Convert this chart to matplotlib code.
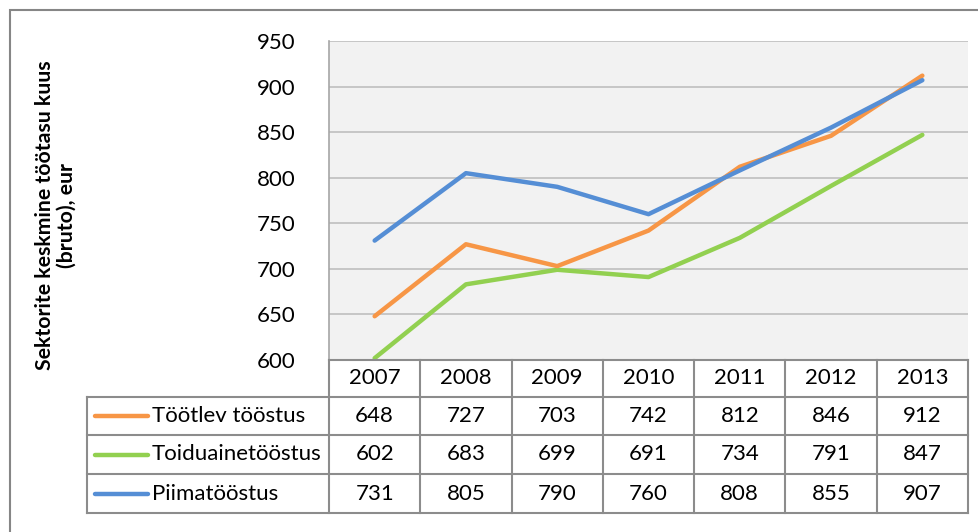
import matplotlib
matplotlib.use("Agg")
import matplotlib.pyplot as plt
from matplotlib.transforms import blended_transform_factory
from matplotlib.lines import Line2D
from matplotlib.patches import Rectangle

plt.rcParams['font.family'] = ['Lato', 'DejaVu Sans']

years = ['2007', '2008', '2009', '2010', '2011', '2012', '2013']
series_names = ['Töötlev tööstus', 'Toiduainetööstus', 'Piimatööstus']
tootlev = [648, 727, 703, 742, 812, 846, 912]
toiduaine = [602, 683, 699, 691, 734, 791, 847]
piima = [731, 805, 790, 760, 808, 855, 907]
series_values = [tootlev, toiduaine, piima]
colors = ['#F79646', '#92D050', '#558ED5']
y_ticks = [600, 650, 700, 750, 800, 850, 900, 950]
y_label = 'Sektorite keskmine töötasu kuus\n(bruto), eur'

W, H = 979, 532
fig = plt.figure(figsize=(W / 100, H / 100), dpi=100)
fig.patch.set_facecolor('white')

def fx(px):
    return px / W

def fy(py):
    return 1 - py / H

FS = 16

ax = fig.add_axes([fx(329), fy(360), fx(968) - fx(329), fy(41) - fy(360)])
ax.set_facecolor('#F2F2F2')
x = list(range(len(years)))
ax.set_xlim(-0.5, len(years) - 0.5)
ax.set_ylim(600, 950)
ax.set_yticks(y_ticks)
ax.set_yticklabels([str(v) for v in y_ticks], fontsize=FS)
ax.tick_params(axis='y', length=0, pad=24)
ax.set_xticks([])
ax.grid(axis='y', color='#C3C3C3', linewidth=1.3)
ax.set_axisbelow(True)
for s in ['top', 'right', 'bottom']:
    ax.spines[s].set_visible(False)
ax.spines['left'].set_color('#A6A6A6')
ax.spines['left'].set_linewidth(1.2)

for i in [1, 0, 2]:
    ax.plot(x, series_values[i], color=colors[i], linewidth=3.2,
            solid_capstyle='round', solid_joinstyle='round', zorder=3)

# data table
tr = blended_transform_factory(ax.transData, fig.transFigure)
px_per_col = (968 - 329) / len(years)
label_left = -0.5 - (329 - 87) / px_per_col
row_edges = [360, 397, 435, 474, 513]
border_c = '#8C8C8C'
lw = 1.5

for k, ry in enumerate(row_edges):
    left = -0.5 if k == 0 else label_left
    fig.add_artist(Line2D([left, len(years) - 0.5], [fy(ry), fy(ry)],
                          transform=tr, color=border_c, linewidth=lw))
for j in range(len(years) + 1):
    xe = j - 0.5
    fig.add_artist(Line2D([xe, xe], [fy(row_edges[0]), fy(row_edges[-1])],
                          transform=tr, color=border_c, linewidth=lw))
fig.add_artist(Line2D([label_left, label_left], [fy(row_edges[1]), fy(row_edges[-1])],
                      transform=tr, color=border_c, linewidth=lw))

for j, yr in enumerate(years):
    fig.text(j, fy((row_edges[0] + row_edges[1]) / 2), yr, transform=tr,
             ha='center', va='center', fontsize=FS)

leg_x0 = -0.5 - (329 - 95) / px_per_col
leg_x1 = -0.5 - (329 - 148) / px_per_col
txt_x = -0.5 - (329 - 152) / px_per_col
for i, name in enumerate(series_names):
    yc = fy((row_edges[i + 1] + row_edges[i + 2]) / 2)
    fig.add_artist(Line2D([leg_x0, leg_x1], [yc, yc], transform=tr,
                          color=colors[i], linewidth=3.2, solid_capstyle='round'))
    fig.text(txt_x, yc, name, transform=tr, ha='left', va='center', fontsize=FS)
    for j, v in enumerate(series_values[i]):
        fig.text(j, yc, str(v), transform=tr, ha='center', va='center', fontsize=FS)

fig.text(fx(56), fy(215), y_label, rotation=90, ha='center', va='center',
         fontsize=15.3, fontweight='bold', multialignment='center', linespacing=1.1)

fig.add_artist(Rectangle((fx(10), -0.1), 1.2, fy(10) + 0.1, transform=fig.transFigure,
                         fill=False, edgecolor='#868686', linewidth=1.5))

fig.savefig('out.png', dpi=100, facecolor='white')
